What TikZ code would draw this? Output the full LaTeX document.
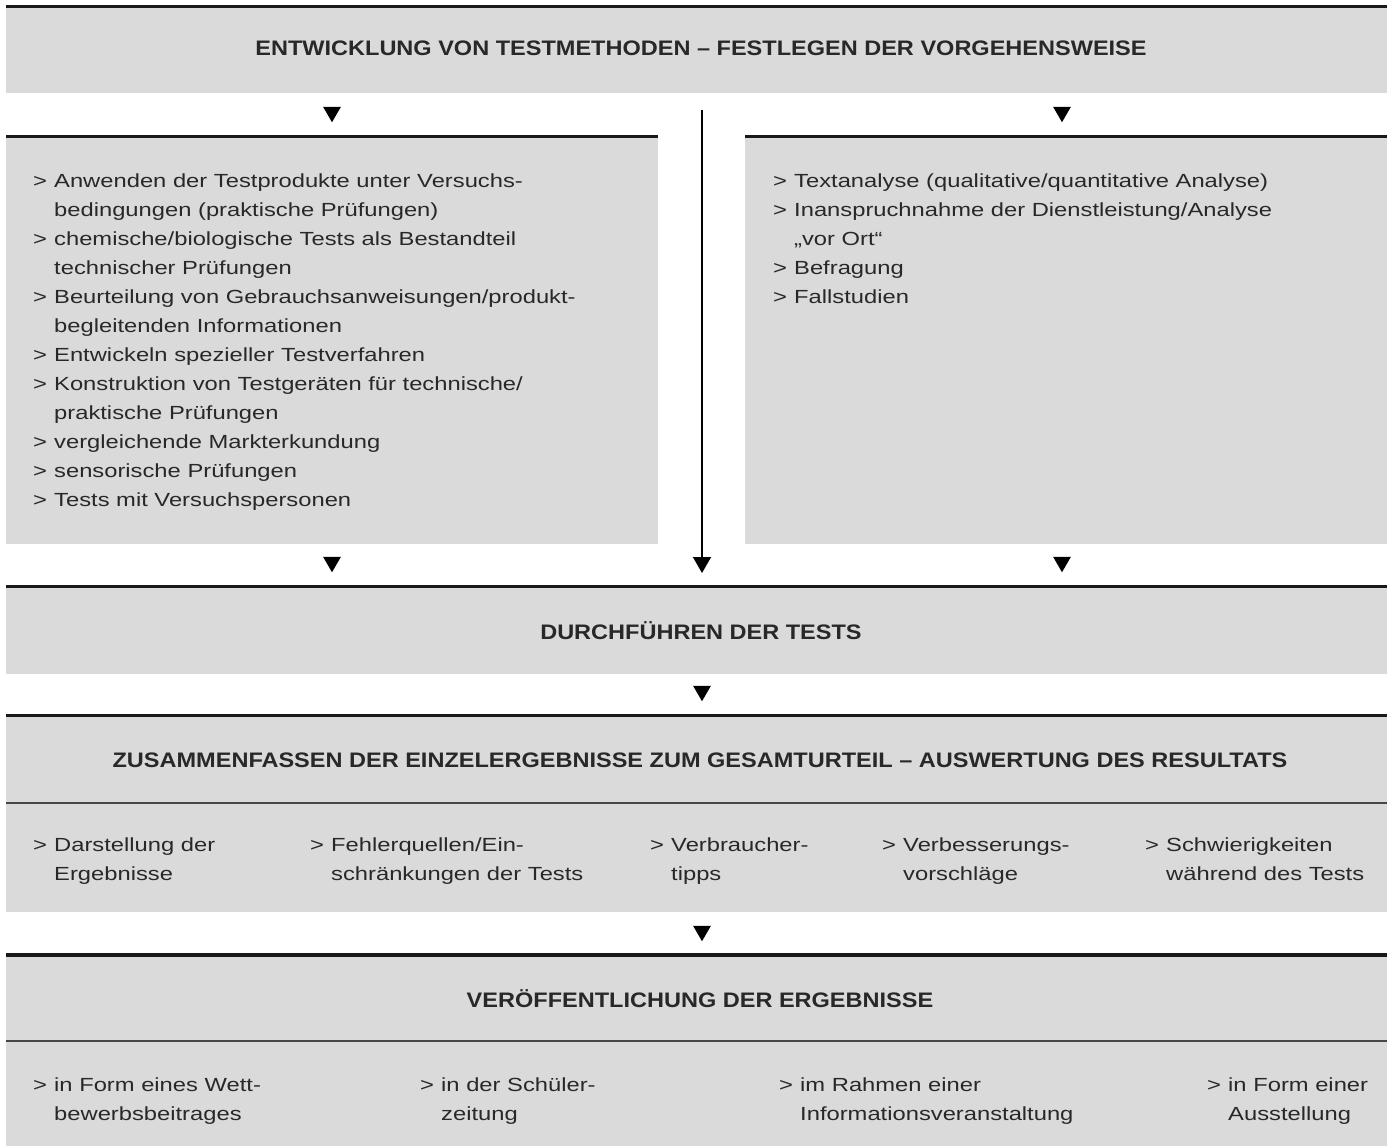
\documentclass[tikz,border=0pt]{standalone}
\usepackage{fontspec}
\setmainfont{Liberation Sans}
\newfontfamily\itemfont[FakeStretch=1.25]{Liberation Sans}
\newfontfamily\titlefont[FakeStretch=1.12]{Liberation Sans Bold}
\usetikzlibrary{shapes.geometric,arrows.meta}
\definecolor{bandgray}{RGB}{218,218,218}
\definecolor{linedark}{RGB}{25,25,25}
\definecolor{sepgray}{RGB}{70,70,70}
\definecolor{txt}{RGB}{40,40,40}
\newcommand\gt{\makebox[21pt][l]{>}}
\newcommand\ind{\hspace*{21pt}}
\newcommand\itemlist[1]{\begin{tabular}[t]{@{}l@{}}#1\end{tabular}}
\begin{document}
\begin{tikzpicture}[x=1pt,y=-1pt,
  band/.style={fill=bandgray, draw=none, inner sep=0, outer sep=0},
  topline/.style={draw=linedark, line width=#1},
  sepline/.style={draw=sepgray, line width=2pt},
  titletext/.style={font=\fontsize{21pt}{25pt}\titlefont, text=txt, inner sep=0},
  itemtext/.style={font=\fontsize{19pt}{29pt}\itemfont, text=txt, inner sep=0, anchor=base west},
  tri/.style={regular polygon, regular polygon sides=3, shape border rotate=180, fill=black, inner sep=0, minimum size=20.5pt},
]
\useasboundingbox (0,0) rectangle (1387,1146);
\fill[white] (0,0) rectangle (1387,1146);

% bands
\node[band, minimum width=1381pt, minimum height=88pt] (b1) at (696.5,49) {};
\node[band, minimum width=652pt, minimum height=409pt] (lb) at (332,339.5) {};
\node[band, minimum width=642pt, minimum height=409pt] (rb) at (1066,339.5) {};
\node[band, minimum width=1381pt, minimum height=89pt] (b2) at (696.5,629.5) {};
\node[band, minimum width=1381pt, minimum height=198pt] (b3) at (696.5,813) {};
\node[band, minimum width=1381pt, minimum height=193pt] (b4) at (696.5,1049.5) {};

% top lines
\draw[topline=3pt] ([yshift=-1.5pt]b1.north west) -- ([yshift=-1.5pt]b1.north east);
\draw[topline=2.5pt] ([yshift=-1.25pt]lb.north west) -- ([yshift=-1.25pt]lb.north east);
\draw[topline=2.5pt] ([yshift=-1.25pt]rb.north west) -- ([yshift=-1.25pt]rb.north east);
\draw[topline=3pt] ([yshift=-1.5pt]b2.north west) -- ([yshift=-1.5pt]b2.north east);
\draw[topline=3pt] ([yshift=-1.5pt]b3.north west) -- ([yshift=-1.5pt]b3.north east);
\draw[topline=4pt] ([yshift=-2pt]b4.north west) -- ([yshift=-2pt]b4.north east);
\draw[sepline] (6,803) -- (1387,803);
\draw[sepline] (6,1041) -- (1387,1041);

% titles
\node[titletext, anchor=base] (t1) at (701,55.5) {ENTWICKLUNG VON TESTMETHODEN – FESTLEGEN DER VORGEHENSWEISE};
\node[titletext, anchor=base] (t2) at (701,639.5) {DURCHFÜHREN DER TESTS};
\node[titletext, anchor=base] (t3) at (700,767.5) {ZUSAMMENFASSEN DER EINZELERGEBNISSE ZUM GESAMTURTEIL – AUSWERTUNG DES RESULTATS};
\node[titletext, anchor=base] (t4) at (700,1007.5) {VERÖFFENTLICHUNG DER ERGEBNISSE};

% left and right lists
\node[itemtext] (l1) at (33,187) {\itemlist{%
\gt Anwenden der Testprodukte unter Versuchs-\\
\ind bedingungen (praktische Prüfungen)\\
\gt chemische/biologische Tests als Bestandteil\\
\ind technischer Prüfungen\\
\gt Beurteilung von Gebrauchsanweisungen/produkt-\\
\ind begleitenden Informationen\\
\gt Entwickeln spezieller Testverfahren\\
\gt Konstruktion von Testgeräten für technische/\\
\ind praktische Prüfungen\\
\gt vergleichende Markterkundung\\
\gt sensorische Prüfungen\\
\gt Tests mit Versuchspersonen}};
\node[itemtext] (r1) at (773,187) {\itemlist{%
\gt Textanalyse (qualitative/quantitative Analyse)\\
\gt Inanspruchnahme der Dienstleistung/Analyse\\
\ind „vor Ort“\\
\gt Befragung\\
\gt Fallstudien}};

% results items
\node[itemtext] (z1) at (33,851) {\itemlist{\gt Darstellung der\\ \ind Ergebnisse}};
\node[itemtext] (z2) at (310,851) {\itemlist{\gt Fehlerquellen/Ein-\\ \ind schränkungen der Tests}};
\node[itemtext] (z3) at (650,851) {\itemlist{\gt Verbraucher-\\ \ind tipps}};
\node[itemtext] (z4) at (882,851) {\itemlist{\gt Verbesserungs-\\ \ind vorschläge}};
\node[itemtext] (z5) at (1145,851) {\itemlist{\gt Schwierigkeiten\\ \ind während des Tests}};

% publication items
\node[itemtext] (v1) at (33,1091) {\itemlist{\gt in Form eines Wett-\\ \ind bewerbsbeitrages}};
\node[itemtext] (v2) at (420,1091) {\itemlist{\gt in der Schüler-\\ \ind zeitung}};
\node[itemtext] (v3) at (779,1091) {\itemlist{\gt im Rahmen einer\\ \ind Informationsveranstaltung}};
\node[itemtext] (v4) at (1207,1091) {\itemlist{\gt in Form einer\\ \ind Ausstellung}};

% triangles
\node[tri] (a1) at (332,112) {};
\node[tri] (a2) at (1062,112) {};
\node[tri] (a3) at (332,562) {};
\node[tri] (a4) at (1062,562) {};
\node[tri] (a5) at (702,691) {};
\node[tri] (a6) at (702,931) {};

% central connector
\coordinate (ctop) at (702,110);
\coordinate (ctip) at (702,573);
\draw[line width=1.5pt, draw=black, -{Triangle[width=18pt,length=16pt]}] (ctop) -- (ctip);
\end{tikzpicture}
\end{document}
